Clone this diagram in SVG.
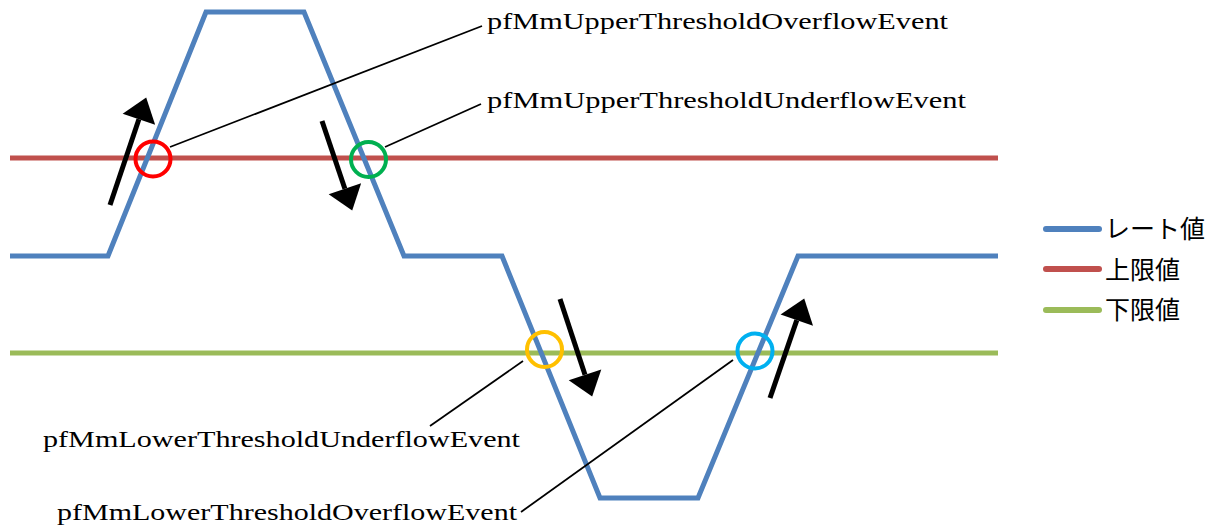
<svg xmlns="http://www.w3.org/2000/svg" width="1219" height="530" viewBox="0 0 1219 530">
<defs>
<style>
.rate{fill:none;stroke:#4F81BD;stroke-width:5;stroke-linejoin:miter}
.up{stroke:#C0504D;stroke-width:5}
.low{stroke:#9BBB59;stroke-width:5}
.ring{fill:none;stroke-width:4}
.arrow{stroke:#000;stroke-width:5;marker-end:url(#ah)}
.lead{stroke:#000;stroke-width:1.8}
.lbl{font-family:"Century Schoolbook","Liberation Serif","DejaVu Serif",serif;font-size:23px;fill:#000}
.leg{font-family:"Noto Sans CJK JP","Noto Sans",sans-serif;font-size:25px;fill:#000}
.legline{stroke-width:6;stroke-linecap:round}
</style>
<marker id="ah" markerUnits="userSpaceOnUse" markerWidth="40" markerHeight="40" refX="0" refY="0" orient="auto" viewBox="-2 -14 22 28" overflow="visible">
<path d="M0,-12 L16,0 L0,12 z" fill="#000"/>
</marker>
</defs>
<rect width="1219" height="530" fill="#fff"/>
<g id="thresholds">
<line class="up" x1="10" y1="158" x2="998" y2="158"/>
<line class="low" x1="10" y1="353" x2="998" y2="353"/>
</g>
<g id="rate-line">
<polyline class="rate" points="10,256 108,256 206,12 304,12 404,256 502,256 600,498 698,498 798,256 998,256"/>
</g>
<g id="connectors">
<line class="arrow" x1="110" y1="205" x2="138.9" y2="119.2"/>
<line class="arrow" x1="322" y1="121" x2="344.9" y2="188.8"/>
<line class="arrow" x1="560" y1="299" x2="585" y2="374.8"/>
<line class="arrow" x1="770" y1="398" x2="796.8" y2="320.1"/>
<line class="lead" x1="170" y1="147" x2="482" y2="26"/>
<line class="lead" x1="385" y1="147" x2="481" y2="104"/>
<line class="lead" x1="523" y1="361" x2="430" y2="426"/>
<line class="lead" x1="733" y1="360" x2="521" y2="512"/>
</g>
<g id="ev-upper-overflow">
<circle class="ring" cx="153" cy="159" r="17.5" stroke="#FF0000"/>
<text class="lbl" x="487" y="29" textLength="461" lengthAdjust="spacingAndGlyphs">pfMmUpperThresholdOverflowEvent</text>
</g>
<g id="ev-upper-underflow">
<circle class="ring" cx="368.5" cy="159.5" r="17.5" stroke="#00B050"/>
<text class="lbl" x="487" y="108" textLength="479" lengthAdjust="spacingAndGlyphs">pfMmUpperThresholdUnderflowEvent</text>
</g>
<g id="ev-lower-underflow">
<circle class="ring" cx="544.5" cy="349.5" r="17.5" stroke="#FFC000"/>
<text class="lbl" x="43" y="447" textLength="477" lengthAdjust="spacingAndGlyphs">pfMmLowerThresholdUnderflowEvent</text>
</g>
<g id="ev-lower-overflow">
<circle class="ring" cx="755" cy="351" r="17.5" stroke="#00B0F0"/>
<text class="lbl" x="57" y="520" textLength="460" lengthAdjust="spacingAndGlyphs">pfMmLowerThresholdOverflowEvent</text>
</g>
<g id="legend">
<line class="legline" x1="1046" y1="229" x2="1099" y2="229" stroke="#4F81BD"/>
<text class="leg" x="1105" y="238">レート値</text>
<line class="legline" x1="1046" y1="269" x2="1099" y2="269" stroke="#C0504D"/>
<text class="leg" x="1105" y="279">上限値</text>
<line class="legline" x1="1046" y1="310" x2="1099" y2="310" stroke="#9BBB59"/>
<text class="leg" x="1105" y="319">下限値</text>
</g>
</svg>
